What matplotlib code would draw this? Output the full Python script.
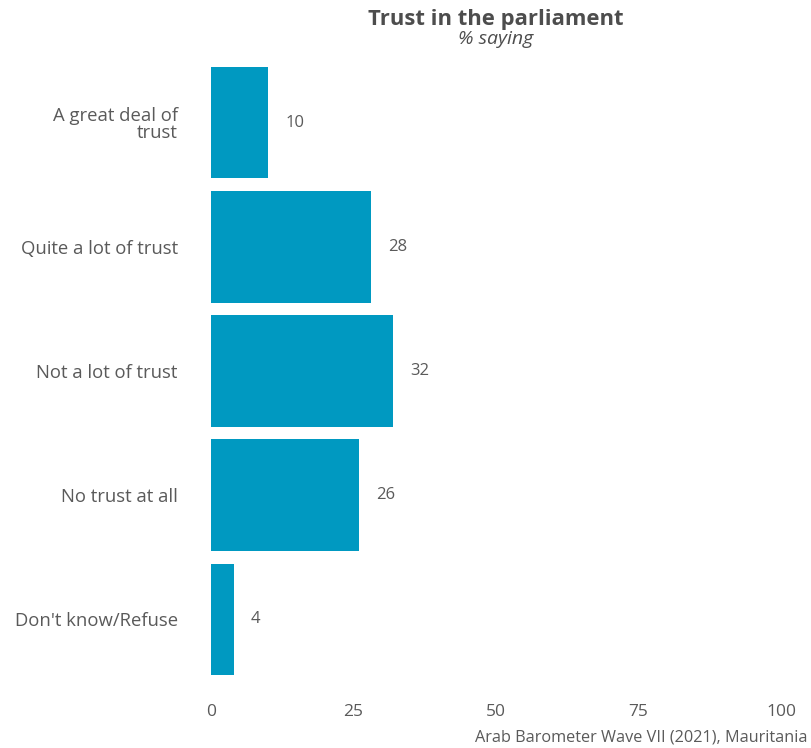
import matplotlib.pyplot as plt

categories = ["A great deal of\ntrust", "Quite a lot of trust", "Not a lot of trust",
              "No trust at all", "Don't know/Refuse"]
values = [10, 28, 32, 26, 4]
xticks = [0, 25, 50, 75, 100]

bar_color = "#0099c1"
text_color = "#5a5a5a"
plt.rcParams['font.family'] = ['Open Sans', 'DejaVu Sans']

fig = plt.figure(figsize=(8.12, 7.48), dpi=100)
ax = fig.add_axes([211 / 812, 1 - 694 / 748, 570 / 812, 646 / 748])

pos = list(range(len(categories)))
ax.barh(pos, values, height=0.9, color=bar_color)
for p, v in zip(pos, values):
    ax.text(v + 3, p, str(v), ha='left', va='center', fontsize=12, color=text_color)

ax.set_xlim(0, 100)
ax.set_ylim(len(categories) - 0.4, -0.6)
ax.set_yticks(pos)
ax.set_yticklabels(categories, fontsize=13.3, color=text_color, ha='right', linespacing=0.95)
ax.set_xticks(xticks)
ax.set_xticklabels([str(t) for t in xticks], fontsize=12.5, color=text_color)
ax.tick_params(axis='y', length=0, pad=24)
ax.tick_params(axis='x', length=0, pad=7)
for s in ax.spines.values():
    s.set_visible(False)

cx = (211 + 781) / 2 / 812
fig.text(cx, 1 - 20 / 748, "Trust in the parliament", ha='center', va='center',
         fontsize=15.8, fontweight='bold', color="#4d4d4d")
fig.text(cx, 1 - 39 / 748, "% saying", ha='center', va='center',
         fontsize=14, style='italic', color="#4d4d4d")
fig.text(808 / 812, 1 - 738 / 748, "Arab Barometer Wave VII (2021), Mauritania",
         ha='right', va='center', fontsize=11.7, color=text_color)

fig.savefig("out.png", dpi=100)
